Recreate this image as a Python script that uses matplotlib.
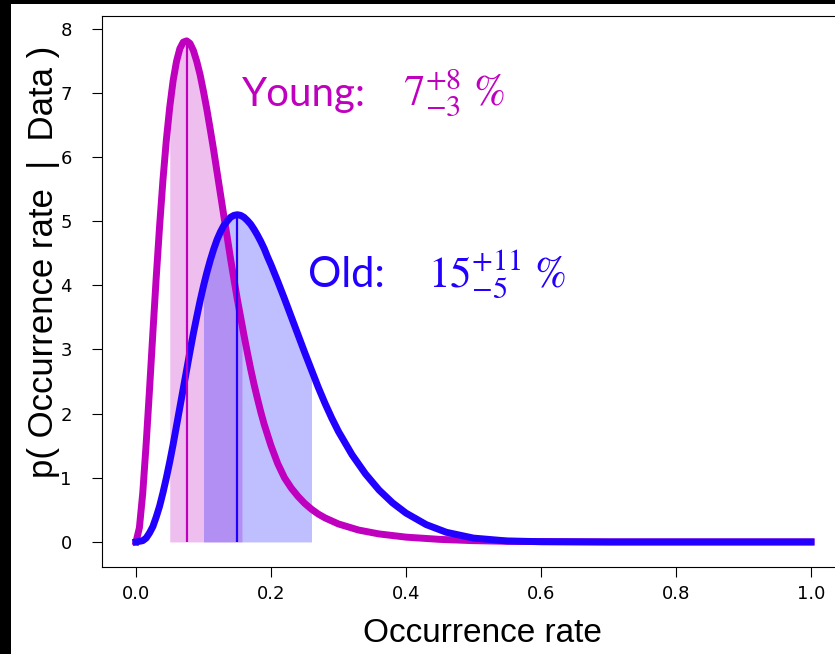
import matplotlib
matplotlib.use("Agg")
import matplotlib.pyplot as plt
from matplotlib.patches import Rectangle

# posterior curves
x_young = [0, .005, .01, .015, .02, .025, .03, .035, .04, .045, .05, .055, .06,
           .065, .07, .075, .08, .085, .09, .095, .10, .105, .11, .115, .12,
           .125, .13, .135, .14, .145, .15, .157, .16, .165, .17, .175, .18,
           .185, .19, .20, .21, .22, .23, .24, .25, .26, .27, .28, .30, .33,
           .36, .40, .45, .50, .55, .60, .70, .80, .90, 1.0]
y_young = [0, 0.22, 0.76, 1.52, 2.37, 3.26, 4.13, 4.93, 5.65, 6.27, 6.78, 7.19,
           7.49, 7.69, 7.79, 7.81, 7.77, 7.66, 7.49, 7.28, 7.02, 6.74, 6.43,
           6.11, 5.77, 5.43, 5.09, 4.76, 4.42, 4.10, 3.79, 3.39, 3.22, 2.95,
           2.69, 2.45, 2.23, 2.02, 1.83, 1.50, 1.22, 1.00, 0.84, 0.71, 0.60,
           0.51, 0.435, 0.375, 0.28, 0.185, 0.125, 0.075, 0.04, 0.02, 0.01,
           0.005, 0, 0, 0, 0]

x_old = [0, .01, .015, .02, .025, .03, .035, .04, .045, .05, .055, .06, .065,
         .07, .075, .08, .085, .09, .095, .10, .105, .11, .115, .12, .125, .13,
         .135, .14, .145, .15, .155, .16, .165, .17, .175, .18, .185, .19, .195,
         .20, .21, .22, .23, .24, .25, .26, .27, .28, .29, .30, .32, .34, .36,
         .38, .40, .43, .46, .50, .55, .60, .70, .80, .90, 1.0]
y_old = [0, 0.02, 0.06, 0.14, 0.24, 0.39, 0.56, 0.77, 1.00, 1.25, 1.52, 1.81,
         2.10, 2.39, 2.68, 2.97, 3.25, 3.51, 3.76, 3.99, 4.20, 4.39, 4.56, 4.71,
         4.83, 4.93, 5.00, 5.06, 5.09, 5.10, 5.09, 5.06, 5.01, 4.95, 4.87,
         4.78, 4.68, 4.57, 4.44, 4.32, 4.06, 3.79, 3.51, 3.23, 2.95, 2.68,
         2.41, 2.16, 1.93, 1.72, 1.36, 1.06, 0.81, 0.61, 0.45, 0.27, 0.15,
         0.06, 0.015, 0.004, 0, 0, 0, 0]

# shaded intervals and modes
young_lo, young_hi, young_mode = 0.05, 0.157, 0.075
old_lo, old_hi, old_mode = 0.10, 0.26, 0.15

c_young = "#bf00bf"
c_old = "#2200ff"

plt.rcParams["mathtext.fontset"] = "stix"

fig = plt.figure(figsize=(8.35, 6.54), dpi=100, facecolor="black")
fig.patches.append(Rectangle((11 / 835, 0), 1, 650 / 654, transform=fig.transFigure,
                             facecolor="white", edgecolor="none", zorder=-10))
ax = fig.add_axes([102.25 / 835, 87 / 654, 742.5 / 835, 551.2 / 654])

ax.fill_between(x_young, 0, y_young,
                where=[young_lo <= x <= young_hi for x in x_young],
                color=c_young, alpha=0.25, lw=0)
ax.fill_between(x_old, 0, y_old,
                where=[old_lo <= x <= old_hi for x in x_old],
                color="blue", alpha=0.25, lw=0)

ax.plot(x_young, y_young, color=c_young, lw=5, solid_joinstyle="round")
ax.plot(x_old, y_old, color=c_old, lw=5, solid_joinstyle="round")
ax.vlines(young_mode, 0, max(y_young), color=c_young, lw=1.6)
ax.vlines(old_mode, 0, max(y_old), color=c_old, lw=1.6)

ax.text(0.1566, 6.80, "Young:", color=c_young, fontsize=29, family="Lato")
ax.text(0.3956, 6.80, r"$7^{+8}_{-3}\ \%$", color=c_young, fontsize=31)
ax.text(0.2548, 3.98, "Old:", color=c_old, fontsize=30, family="Lato")
ax.text(0.4326, 3.98, r"$15^{+11}_{-5}\ \%$", color=c_old, fontsize=31)

ax.set_xticks([0.0, 0.2, 0.4, 0.6, 0.8, 1.0])
ax.set_yticks(range(9))
ax.tick_params(axis="both", labelsize=13, length=7)
ax.tick_params(axis="x", pad=6)
ax.tick_params(axis="y", pad=15)
ax.set_xlabel("Occurrence rate", fontsize=24, family="Liberation Sans")
ax.set_ylabel("p( Occurrence rate  |  Data )", fontsize=25, family="Liberation Sans")
ax.xaxis.set_label_coords(0.5114, -0.0924)
ax.yaxis.set_label_coords(-0.057, 0.553)

fig.savefig("out.png", dpi=100, facecolor=fig.get_facecolor())
